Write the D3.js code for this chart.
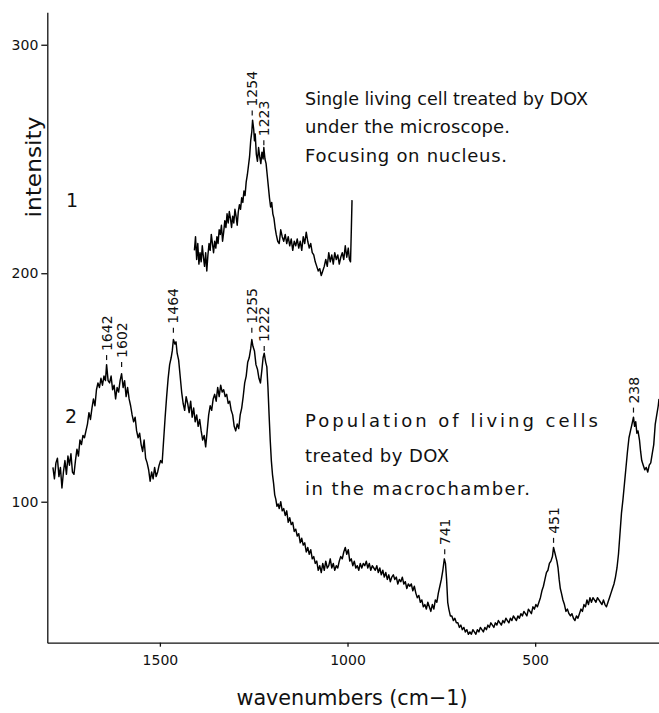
<!DOCTYPE html>
<html>
  <head>
    <meta charset="utf-8" />
    <style>
      body {
        margin: 0;
        background: #fff;
      }
      text {
        font-family: "DejaVu Sans", sans-serif;
        fill: #111;
      }
      .axis path,
      .axis line {
        stroke: #111;
        stroke-width: 1.3px;
      }
      .axis text {
        font-size: 14px;
      }
      .spectrum {
        fill: none;
        stroke: #000;
        stroke-width: 1.45px;
        stroke-linejoin: round;
      }
    </style>
  </head>
  <body>
    <svg width="659" height="713"></svg>
    <script src="https://cdn.jsdelivr.net/npm/d3@7"></script>
    <script>
      // spectrum 1: single living cell, nucleus (wavenumber, intensity)
      var cell = [
        [1408, 210], [1405, 216], [1402, 206], [1399, 213], [1396, 204], [1393, 209],
        [1390, 205], [1387, 212], [1384, 207], [1381, 203], [1378, 209], [1375, 201],
        [1372, 208], [1369, 213], [1366, 210], [1363, 217], [1360, 213], [1357, 209],
        [1354, 214], [1351, 211], [1348, 216], [1345, 213], [1342, 219], [1339, 217],
        [1336, 221], [1333, 214], [1330, 218], [1327, 223], [1324, 220], [1321, 226],
        [1318, 222], [1315, 227], [1312, 224], [1309, 220], [1306, 225], [1303, 222],
        [1300, 228], [1297, 225], [1294, 221], [1291, 227], [1288, 230], [1285, 228],
        [1282, 233], [1279, 231], [1276, 236], [1273, 234], [1270, 240], [1267, 243],
        [1264, 247], [1261, 251], [1258, 258], [1255, 262], [1253, 267], [1250, 263],
        [1248, 258], [1246, 261], [1243, 252], [1240, 249], [1237, 255], [1234, 251],
        [1231, 248], [1228, 253], [1225, 250], [1223, 255], [1220, 250], [1217, 248],
        [1214, 243], [1211, 238], [1208, 233], [1205, 229], [1202, 231], [1199, 226],
        [1196, 224], [1193, 220], [1190, 217], [1186, 214], [1182, 213], [1178, 219],
        [1174, 216], [1170, 214], [1166, 217], [1162, 213], [1158, 216], [1154, 212],
        [1150, 215], [1146, 210], [1142, 214], [1138, 212], [1134, 215], [1130, 211],
        [1126, 214], [1122, 210], [1118, 216], [1114, 213], [1110, 218], [1106, 214],
        [1102, 211], [1098, 213], [1094, 209], [1090, 208], [1086, 205], [1082, 203],
        [1078, 201], [1074, 202], [1070, 199], [1066, 201], [1062, 203], [1058, 206],
        [1054, 203], [1050, 209], [1046, 205], [1042, 208], [1038, 204], [1034, 209],
        [1030, 206], [1026, 208], [1022, 204], [1018, 207], [1014, 209], [1010, 206],
        [1006, 212], [1002, 207], [998, 211], [995, 206], [992, 205], [990, 218],
        [988, 232]
      ];

      // spectrum 2: population of living cells, macrochamber
      var population = [
        [1785, 115], [1781, 110], [1777, 117], [1773, 119], [1769, 111], [1765, 115],
        [1761, 106], [1757, 113], [1753, 118], [1749, 112], [1745, 120], [1741, 116],
        [1737, 121], [1733, 113], [1729, 112], [1725, 118], [1721, 123], [1717, 120],
        [1713, 127], [1709, 125], [1705, 129], [1701, 128], [1697, 131], [1693, 134],
        [1689, 139], [1685, 136], [1681, 141], [1677, 145], [1673, 142], [1669, 149],
        [1665, 152], [1661, 150], [1657, 154], [1653, 151], [1649, 155], [1645, 153],
        [1642, 160], [1638, 153], [1634, 152], [1630, 155], [1626, 149], [1622, 151],
        [1618, 145], [1614, 150], [1610, 148], [1606, 153], [1602, 156], [1598, 150],
        [1594, 153], [1590, 146], [1586, 150], [1582, 145], [1578, 142], [1574, 138],
        [1570, 135], [1566, 137], [1562, 131], [1558, 128], [1554, 130], [1550, 125],
        [1546, 122], [1542, 127], [1538, 119], [1534, 117], [1530, 114], [1526, 109],
        [1522, 113], [1518, 110], [1514, 115], [1510, 111], [1506, 113], [1502, 116],
        [1498, 118], [1494, 117], [1490, 127], [1486, 137], [1482, 146], [1478, 154],
        [1474, 160], [1470, 163], [1467, 166], [1464, 171], [1460, 169], [1457, 170],
        [1454, 165], [1450, 162], [1446, 155], [1442, 148], [1438, 143], [1434, 140],
        [1430, 146], [1426, 143], [1422, 139], [1418, 144], [1414, 137], [1410, 141],
        [1406, 135], [1402, 138], [1398, 133], [1394, 136], [1390, 131], [1386, 127],
        [1382, 129], [1378, 124], [1374, 131], [1370, 138], [1366, 142], [1362, 140],
        [1358, 145], [1354, 147], [1350, 144], [1346, 150], [1342, 146], [1338, 151],
        [1334, 148], [1330, 149], [1326, 146], [1322, 147], [1318, 143], [1314, 144],
        [1310, 140], [1306, 138], [1302, 133], [1298, 131], [1294, 134], [1290, 132],
        [1286, 138], [1282, 141], [1278, 146], [1274, 152], [1270, 155], [1266, 161],
        [1262, 163], [1258, 167], [1255, 171], [1252, 168], [1248, 166], [1244, 160],
        [1240, 158], [1236, 154], [1232, 152], [1228, 158], [1225, 163], [1222, 165],
        [1218, 161], [1215, 159], [1212, 150], [1209, 138], [1206, 127], [1203, 118],
        [1200, 112], [1197, 108], [1194, 103], [1191, 101], [1188, 98], [1185, 99],
        [1182, 97], [1178, 100], [1174, 96], [1170, 97], [1166, 94], [1162, 96],
        [1158, 91], [1154, 93], [1150, 90], [1146, 91], [1142, 87], [1138, 88],
        [1134, 85], [1130, 86], [1126, 82], [1122, 84], [1118, 81], [1114, 82],
        [1110, 78], [1106, 80], [1102, 77], [1098, 79], [1094, 75], [1090, 76],
        [1086, 73], [1082, 74], [1078, 70], [1074, 72], [1070, 69], [1066, 73],
        [1062, 70], [1058, 74], [1054, 71], [1050, 72], [1046, 75], [1042, 71],
        [1038, 73], [1034, 70], [1030, 72], [1026, 71], [1022, 74], [1018, 76],
        [1014, 75], [1010, 78], [1006, 80], [1002, 77], [998, 79], [994, 74],
        [990, 75], [986, 72], [982, 74], [978, 71], [974, 72], [970, 70],
        [966, 73], [962, 71], [958, 73], [954, 72], [950, 74], [946, 71],
        [942, 73], [938, 70], [934, 72], [930, 71], [926, 70], [922, 72],
        [918, 69], [914, 71], [910, 68], [906, 70], [902, 67], [898, 69],
        [894, 66], [890, 68], [886, 65], [882, 67], [878, 68], [874, 66],
        [870, 67], [866, 64], [862, 66], [858, 65], [854, 67], [850, 64],
        [846, 65], [842, 62], [838, 64], [834, 63], [830, 64], [826, 61],
        [822, 63], [818, 60], [814, 58], [810, 59], [806, 56], [802, 57],
        [798, 54], [794, 55], [790, 53], [786, 56], [782, 54], [778, 52],
        [774, 55], [770, 53], [766, 57], [762, 56], [758, 60], [754, 63],
        [750, 66], [746, 70], [742, 75], [739, 73], [736, 66], [733, 56],
        [730, 53], [726, 50], [722, 50], [718, 48], [714, 49], [710, 47],
        [706, 47], [702, 45], [698, 46], [694, 44], [690, 45], [686, 43],
        [682, 44], [678, 42], [674, 43], [670, 42], [666, 44], [662, 43],
        [658, 42], [654, 44], [650, 43], [646, 45], [642, 44], [638, 43],
        [634, 45], [630, 44], [626, 46], [622, 45], [618, 47], [614, 46],
        [610, 45], [606, 47], [602, 46], [598, 48], [594, 47], [590, 46],
        [586, 48], [582, 47], [578, 49], [574, 48], [570, 47], [566, 49],
        [562, 48], [558, 50], [554, 49], [550, 48], [546, 50], [542, 49],
        [538, 51], [534, 50], [530, 52], [526, 51], [522, 50], [518, 53],
        [514, 52], [510, 51], [506, 54], [502, 53], [498, 55], [494, 54],
        [490, 56], [486, 58], [482, 61], [478, 63], [474, 66], [470, 69],
        [466, 70], [462, 73], [458, 74], [454, 76], [451, 80], [448, 78],
        [445, 76], [442, 74], [439, 71], [436, 66], [433, 62], [430, 60],
        [426, 57], [422, 55], [418, 52], [414, 53], [410, 51], [406, 50],
        [402, 51], [398, 49], [394, 48], [390, 50], [386, 49], [382, 51],
        [378, 53], [374, 52], [370, 55], [366, 54], [362, 57], [358, 55],
        [354, 58], [350, 56], [346, 58], [342, 57], [338, 56], [334, 58],
        [330, 57], [326, 56], [322, 55], [318, 57], [314, 55], [310, 54],
        [306, 56], [302, 58], [298, 60], [294, 62], [290, 64], [286, 67],
        [282, 71], [278, 77], [274, 86], [270, 95], [266, 101], [262, 108],
        [258, 115], [254, 122], [250, 128], [246, 131], [242, 134], [238, 137],
        [235, 133], [232, 135], [229, 130], [226, 131], [222, 127], [219, 122],
        [216, 118], [212, 116], [208, 114], [204, 115], [200, 113], [196, 116],
        [192, 117], [188, 121], [184, 125], [180, 134], [176, 138], [172, 142],
        [170, 145]
      ];

      // peak marks: wavenumber label, intensity where the tick mark sits
      var cellPeaks = [[1254, 269], [1223, 256]];
      var populationPeaks = [
        [1642, 162], [1602, 159], [1464, 174], [1255, 174],
        [1222, 166], [741, 77], [451, 82], [238, 139]
      ];

      var xTicks = [1500, 1000, 500];
      var yTicks = [100, 200, 300];

      var notesCell = ["Single living cell treated by DOX", "under the microscope.", "Focusing on nucleus."];
      var notesPopulation = ["Population of living cells", "treated by DOX", "in the macrochamber."];

      var svg = d3.select("svg");

      var x = d3.scaleLinear().domain([1800, 170]).range([47.3, 659]);
      var y = d3.scaleLinear().domain([38.3, 314.2]).range([642.7, 12.3]);

      svg
        .append("g")
        .attr("class", "axis")
        .attr("transform", "translate(0,642.7)")
        .call(d3.axisBottom(x).tickValues(xTicks).tickSize(4).tickSizeOuter(0).tickPadding(8).tickFormat(d3.format("d")));

      svg
        .append("g")
        .attr("class", "axis")
        .attr("transform", "translate(47.3,0)")
        .call(d3.axisLeft(y).tickValues(yTicks).tickSize(6).tickSizeOuter(0).tickPadding(3).tickFormat(d3.format("d")));

      var line = d3
        .line()
        .x(function (d) {
          return x(d[0]);
        })
        .y(function (d) {
          return y(d[1]);
        });

      svg.append("path").attr("class", "spectrum").attr("d", line(cell));
      svg.append("path").attr("class", "spectrum").attr("d", line(population));

      // rotated peak labels with small dash
      function peakLabels(peaks) {
        var g = svg.append("g").selectAll("g").data(peaks).enter().append("g");
        g.append("line")
          .attr("x1", function (d) { return x(d[0]); })
          .attr("x2", function (d) { return x(d[0]); })
          .attr("y1", function (d) { return y(d[1]); })
          .attr("y2", function (d) { return y(d[1]) - 5; })
          .attr("stroke", "#111")
          .attr("stroke-width", 1.2);
        g.append("text")
          .attr("transform", function (d) {
            return "translate(" + x(d[0]) + "," + (y(d[1]) - 9) + ") rotate(-90)";
          })
          .attr("dy", "0.36em")
          .style("font-size", "14px")
          .text(function (d) { return d[0]; });
      }
      peakLabels(cellPeaks);
      peakLabels(populationPeaks);

      var noteWidths1 = [283, 205, 202];
      var noteWidths2 = [293, 144, 225];

      // stretch spacing when the line is short, squeeze glyphs when it is long
      function notes(lines, baselines, widths) {
        svg
          .append("g")
          .selectAll("text")
          .data(lines)
          .enter()
          .append("text")
          .attr("x", 305)
          .attr("y", function (d, i) { return baselines[i]; })
          .style("font-size", "18px")
          .text(function (d) { return d; })
          .each(function (d, i) {
            var natural = this.getComputedTextLength();
            d3.select(this)
              .attr("textLength", widths[i])
              .attr("lengthAdjust", natural > widths[i] ? "spacingAndGlyphs" : "spacing");
          });
      }
      notes(notesCell, [105, 133, 162], noteWidths1);
      notes(notesPopulation, [427, 462, 495], noteWidths2);

      svg.append("text").attr("x", 66).attr("y", 207).style("font-size", "19px").text("1");
      svg.append("text").attr("x", 65).attr("y", 423).style("font-size", "19px").text("2");

      svg
        .append("text")
        .attr("transform", "translate(41,167) rotate(-90)")
        .attr("text-anchor", "middle")
        .attr("textLength", 101)
        .attr("lengthAdjust", "spacingAndGlyphs")
        .style("font-size", "21px")
        .text("intensity");

      svg
        .append("text")
        .attr("x", 352)
        .attr("y", 705)
        .attr("text-anchor", "middle")
        .attr("textLength", 231)
        .attr("lengthAdjust", "spacingAndGlyphs")
        .style("font-size", "21px")
        .text("wavenumbers (cm\u22121)");
    </script>
  </body>
</html>
